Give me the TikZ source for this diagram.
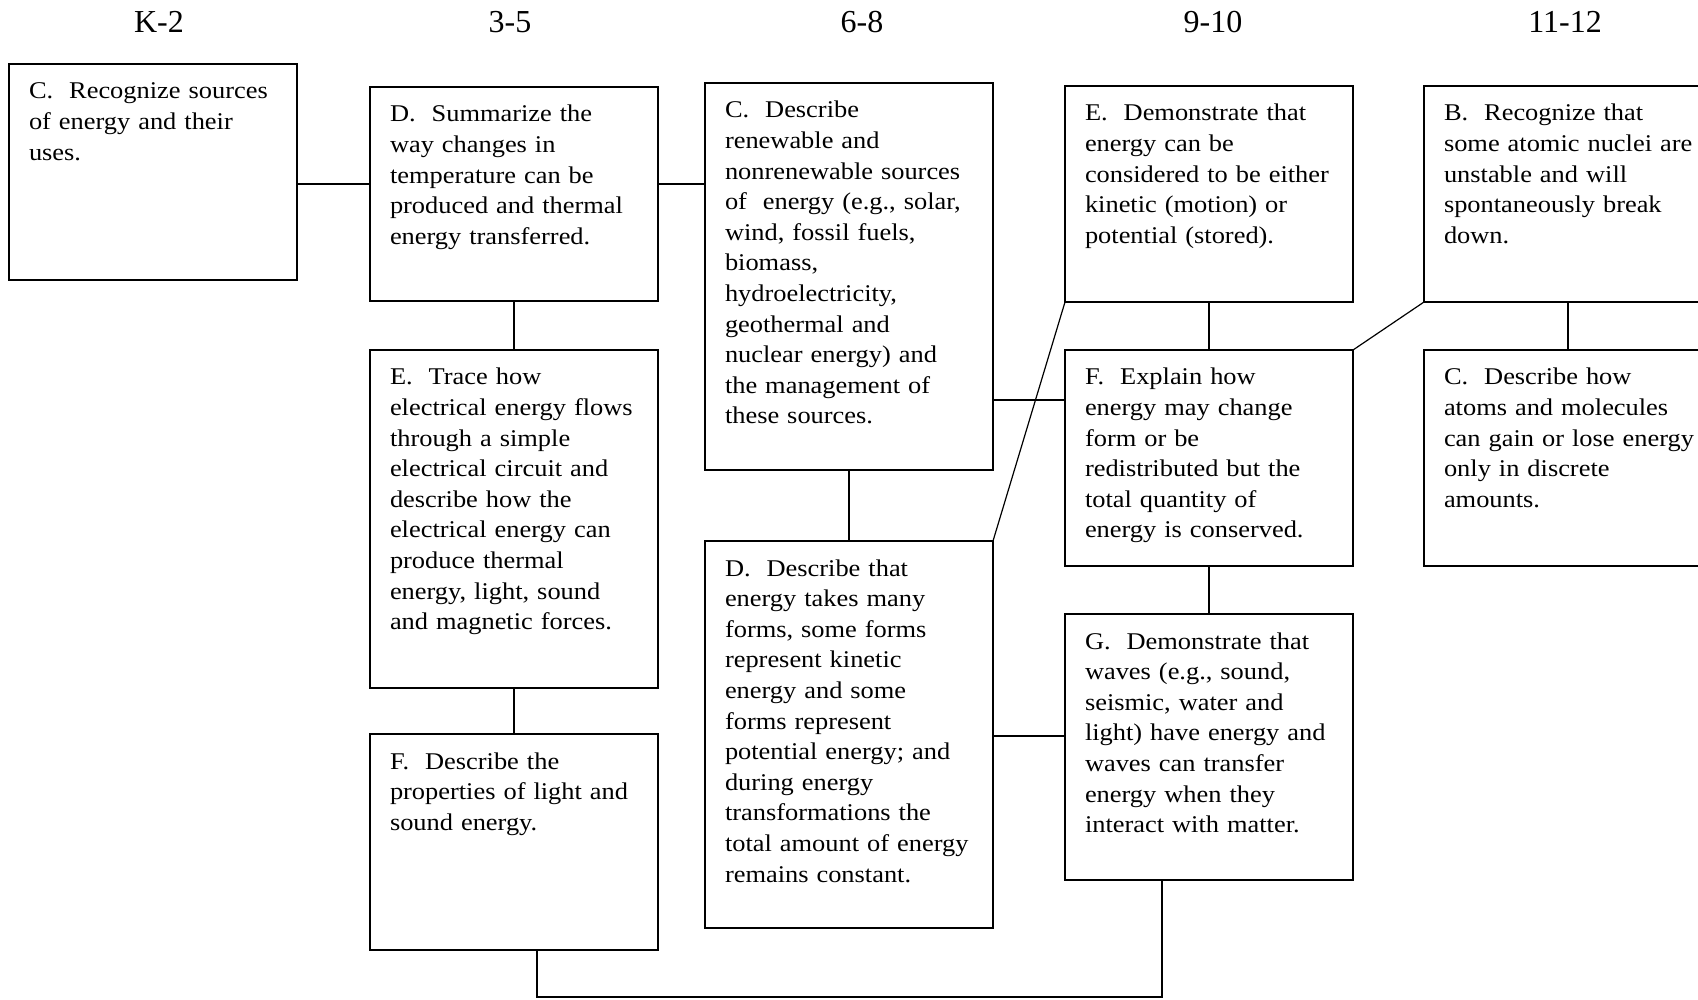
\documentclass[tikz,border=0pt]{standalone}
\usepackage{fontspec}
\setmainfont{Liberation Serif}
\newfontfamily\boxfont[FakeStretch=1.1]{Liberation Serif}
\tikzset{
	std/.style={draw, line width=0.8pt, anchor=north west, outer sep=0pt,
		inner xsep=8pt, inner ysep=0pt, text width=128pt, align=left,
		text height=17.5pt, font=\boxfont\fontsize{12}{15.3}\selectfont,
		execute at begin node={\leftskip=2pt}},
	grade/.style={anchor=base, font=\fontsize{16}{19}\selectfont},
	link/.style={line width=0.6pt}
}

\begin{document}
\begin{tikzpicture}[x=0.5pt, y=-0.5pt]
		\useasboundingbox (0,0) rectangle (1698,1000);

		\node[grade] (hk2) at (159,33) {K-2};
		\node[grade] (h35) at (510,33) {3-5};
		\node[grade] (h68) at (862,33) {6-8};
		\node[grade] (h910) at (1213,33) {9-10};
		\node[grade] (h1112) at (1565,33) {11-12};

		\node[std, text depth=90.5pt] (k2c) at (9,64) {C.\ \ Recognize sources\\ of energy and their\\ uses.};

		\node[std, text depth=89.5pt] (g35d) at (370,87) {D.\ \ Summarize the\\ way changes in\\ temperature can be\\ produced and thermal\\ energy transferred.};
		\node[std, text depth=151.5pt] (g35e) at (370,350) {E.\ \ Trace how\\ electrical energy flows\\ through a simple\\ electrical circuit and\\ describe how the\\ electrical energy can\\ produce thermal\\ energy, light, sound\\ and magnetic forces.};
		\node[std, text depth=90.5pt] (g35f) at (370,734) {F.\ \ Describe the\\ properties of light and\\ sound energy.};

		\node[std, text depth=176pt] (g68c) at (705,83) {C.\ \ Describe\\ renewable and\\ nonrenewable sources\\ of\ \ energy (e.g., solar,\\ wind, fossil fuels,\\ biomass,\\ hydroelectricity,\\ geothermal and\\ nuclear energy) and\\ the management of\\ these sources.};
		\node[std, text depth=176pt] (g68d) at (705,541) {D.\ \ Describe that\\ energy takes many\\ forms, some forms\\ represent kinetic\\ energy and some\\ forms represent\\ potential energy; and\\ during energy\\ transformations the\\ total amount of energy\\ remains constant.};

		\node[std, text depth=90.5pt] (g910e) at (1065,86) {E.\ \ Demonstrate that\\ energy can be\\ considered to be either\\ kinetic (motion) or\\ potential (stored).};
		\node[std, text depth=90.5pt] (g910f) at (1065,350) {F.\ \ Explain how\\ energy may change\\ form or be\\ redistributed but the\\ total quantity of\\ energy is conserved.};
		\node[std, text depth=115.5pt] (g910g) at (1065,614) {G.\ \ Demonstrate that\\ waves (e.g., sound,\\ seismic, water and\\ light) have energy and\\ waves can transfer\\ energy when they\\ interact with matter.};

		\node[std, text depth=90.5pt] (g1112b) at (1424,86) {B.\ \ Recognize that\\ \mbox{some atomic nuclei are}\\ unstable and will\\ spontaneously break\\ down.};
		\node[std, text depth=90.5pt] (g1112c) at (1424,350) {C.\ \ Describe how\\ atoms and molecules\\ \mbox{can gain or lose energy}\\ only in discrete\\ amounts.};

		\coordinate (lvla) at (0,184);
		\coordinate (lvlb) at (0,400);
		\coordinate (lvlc) at (0,736);
		\coordinate (botl) at (537,997);
		\coordinate (botr) at (1162,997);

		\draw[link] (k2c.east |- lvla) -- (g35d.west |- lvla);
		\draw[link] (g35d.east |- lvla) -- (g68c.west |- lvla);
		\draw[link] (g35d.south) -- (g35e.north);
		\draw[link] (g35e.south) -- (g35f.north);
		\draw[link] (g35f.south -| botl) -- (botl) -- (botr) -- (g910g.south -| botr);

		\draw[link] (g68c.south) -- (g68d.north);
		\draw[link] (g68c.east |- lvlb) -- (g910f.west |- lvlb);
		\draw[link] (g68d.east |- lvlc) -- (g910g.west |- lvlc);
		\draw[link] (g68d.north east) -- (g910e.south west);

		\draw[link] (g910e.south) -- (g910f.north);
		\draw[link] (g910f.south) -- (g910g.north);
		\draw[link] (g910f.north east) -- (g1112b.south west);
		\draw[link] (g1112b.south) -- (g1112c.north);
	\end{tikzpicture}
\end{document}
